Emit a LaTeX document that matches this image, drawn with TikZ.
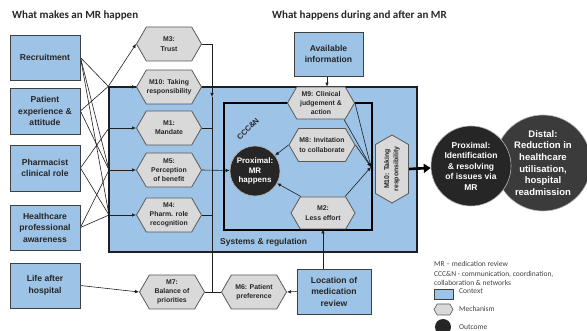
\documentclass[tikz,border=0pt]{standalone}
\usepackage{fontspec}
\setmainfont{Liberation Sans}
\newfontfamily\carl{Carlito}
\usetikzlibrary{shapes.symbols,shapes.geometric,arrows.meta,calc}
\pgfdeclarelayer{back}
\pgfdeclarelayer{mid}
\pgfsetlayers{back,mid,main}
\definecolor{ctx}{HTML}{9DC3E6}
\definecolor{ctxb}{HTML}{404040}
\definecolor{mech}{HTML}{D9D9D9}
\definecolor{mechb}{HTML}{595959}
\definecolor{outc}{HTML}{262626}
\definecolor{distc}{HTML}{3B3B3B}
\definecolor{ln}{HTML}{1F1F1F}
\definecolor{txt}{HTML}{262626}
\begin{document}
\begin{tikzpicture}[x=1pt,y=-1pt,
 ctxbox/.style={draw=ctxb,line width=0.9pt,fill=ctx,align=center,text=txt,
   font=\bfseries\fontsize{8.6}{11.5}\selectfont,inner sep=0pt},
 mechhex/.style={signal,signal to=east and west,signal from=nowhere,
   signal pointer angle=120,draw=mechb,line width=0.8pt,fill=mech,
   minimum width=65pt,minimum height=34pt,inner sep=0pt,align=center,text=txt,
   font=\bfseries\fontsize{6.9}{9.3}\selectfont},
 outcome/.style={circle,draw=gray!60,line width=0.6pt,fill=outc,text=white,
   align=center,inner sep=0pt},
 conn/.style={draw=ln,line width=0.6pt},
 arr/.style={conn,-{Latex[length=4pt,width=3.5pt]}},
 title/.style={font=\carl\bfseries\fontsize{11}{13}\selectfont,text=txt,anchor=west,inner sep=0pt},
 legtxt/.style={font=\carl\fontsize{7.5}{9}\selectfont,text=ctxb,anchor=west,inner sep=0pt},
]
\useasboundingbox (0,0) rectangle (587,331);

% titles
\node[title] (t1) at (12,16) {What makes an MR happen};
\node[title] (t2) at (272,16) {What happens during and after an MR};

% big frames
\begin{pgfonlayer}{back}
\node[draw=ln,line width=1.3pt,fill=ctx,minimum width=308pt,minimum height=165pt,inner sep=0pt] (sys) at (263,169.5) {};
\node[draw=black,line width=1.5pt,minimum width=148pt,minimum height=127pt,inner sep=0pt] (ccc) at (298,166.5) {};
\end{pgfonlayer}
\node[anchor=west,inner sep=0pt,text=txt,font=\bfseries\fontsize{8.5}{10}\selectfont] (syslab) at (220,242) {Systems \& regulation};
\node[rotate=45,inner sep=0pt,text=txt,font=\bfseries\fontsize{7.6}{9}\selectfont] (ccclab) at (248,129) {CCC\&N};

% context boxes
\node[ctxbox,minimum width=70pt,minimum height=45pt] (rec) at (45,57.5) {Recruitment};
\node[ctxbox,minimum width=70pt,minimum height=46pt] (pat) at (45,111) {Patient\\experience \&\\attitude};
\node[ctxbox,minimum width=70pt,minimum height=46pt] (pha) at (45,168) {Pharmacist\\clinical role};
\node[ctxbox,minimum width=70pt,minimum height=45pt] (hca) at (45,227.5) {Healthcare\\professional\\awareness};
\node[ctxbox,minimum width=70pt,minimum height=45pt] (life) at (45,285.5) {Life after\\hospital};
\node[ctxbox,minimum width=74pt,minimum height=45pt] (loc) at (334,291.5) {Location of\\medication\\review};
\node[ctxbox,minimum width=69pt,minimum height=44pt] (avail) at (328.5,54) {Available\\information};

% mechanisms
\node[mechhex] (m3) at (169,44) {M3:\\Trust};
\node[mechhex] (m10) at (169,87) {M10: Taking\\responsibility};
\node[mechhex] (m1) at (169,128) {M1:\\Mandate};
\node[mechhex] (m5) at (169,170) {M5:\\Perception\\of benefit};
\node[mechhex] (m4) at (169,215) {M4:\\Pharm. role\\recognition};
\node[mechhex] (m7) at (172,292) {M7:\\Balance of\\priorities};
\node[mechhex] (m6) at (254,292) {M6: Patient\\preference};
\node[mechhex,minimum width=67pt,minimum height=32pt] (m9) at (321,103) {M9: Clinical\\judgement \&\\action};
\node[mechhex,minimum width=66pt,minimum height=33pt] (m8) at (322,145) {M8: Invitation\\to collaborate};
\node[mechhex,minimum width=64pt,minimum height=32pt] (m2) at (323,213) {M2:\\Less effort};
\node[mechhex,rotate=90,minimum width=68pt,minimum height=33pt] (m10v) at (392,169) {M10: Taking\\responsibility};

% outcomes
\node[outcome,minimum size=50pt,font=\bfseries\fontsize{8}{9.7}\selectfont] (mr) at (255,171) {Proximal:\\MR\\happens};
\node[outcome,fill=distc,minimum size=96pt,font=\bfseries\fontsize{9.5}{11.7}\selectfont] (dist) at (543,163) {Distal:\\Reduction in\\healthcare\\utilisation,\\hospital\\readmission};
\node[outcome,minimum size=80pt,font=\bfseries\fontsize{8.5}{10.5}\selectfont] (prox) at (471,166) {Proximal:\\Identification\\\& resolving\\of issues via\\MR};

% junction points
\coordinate (J1) at (sys.north west);
\coordinate (J2) at (109,128);
\coordinate (J3) at (109,170);
\coordinate (J4) at (109,215);
\coordinate (B1) at (212,97);
\coordinate (C) at (371,167);

\begin{pgfonlayer}{mid}
\draw[conn] (rec.east) -- (J1);
\draw[conn] (rec.east) -- (J3);
\draw[conn] (rec.east) -- (J4);
\draw[conn] (pat.east) -- (J1);
\draw[conn] (pat.east) -- (J3);
\draw[conn] (pha.east) -- (J2);
\draw[conn] (pha.east) -- (J4);
\draw[conn] (hca.east) -- (J3);
\draw[conn] (hca.east) -- (J4);
\draw[arr] (J1) -- (m3.west);
\draw[arr] (J1) -- (m10.west);
\draw[arr] (J2) -- (m1.west);
\draw[arr] (J3) -- (m5.west);
\draw[arr] (J4) -- (m4.west);
\draw[arr] (m3.east) -- (m3.east -| B1) -- (B1);
\draw[conn] (B1) -- (B1 |- m7.east);
\draw[conn] (m1.east) -- (m1.east -| B1);
\draw[conn] (m4.east) -- (m4.east -| B1);
\draw[conn] (m7.east) -- (m6.west);
\draw[arr] (m5.east) -- (mr);
\draw[arr] (m8.west) -- (mr);
\draw[arr] ($(m2.north)+(-22,0)$) -- (mr);
\draw[arr] (life.east) -- (m7.west);
\draw[arr] (loc.west) -- (m6.east);
\draw[arr] (m2.south |- loc.north) -- (m2.south);
\draw[arr] (avail.south -| 327,0) -- (m9.north -| 327,0);
\draw[arr] (m9.east) -- (C);
\draw[arr] ($(m9.south)+(23,0)$) -- (C);
\draw[arr] (m8.east) -- (C);
\draw[arr] ($(m2.north)+(22,0)$) -- (C);
\draw[draw=black,line width=2.6pt,-{Triangle[length=7pt,width=9pt]}] (m10v.south) -- (prox);
\end{pgfonlayer}

% legend
\node[legtxt] (l1) at (434,264) {MR – medication review};
\node[legtxt] (l2) at (434,274) {CCC\&N - communication, coordination,};
\node[legtxt] (l3) at (434,283) {collaboration \& networks};
\node[draw=ctxb,line width=0.7pt,fill=ctx,minimum width=19pt,minimum height=10pt,inner sep=0pt] (lg1) at (443.5,294) {};
\node[legtxt] (l4) at (459,291) {Context};
\node[signal,signal to=east and west,signal from=nowhere,signal pointer angle=120,draw=mechb,line width=0.6pt,fill=mech,minimum width=19pt,minimum height=11pt,inner sep=0pt] (lg2) at (443.5,309.5) {};
\node[legtxt] (l5) at (459,309) {Mechanism};
\node[circle,fill=outc,minimum size=16pt,inner sep=0pt] (lg3) at (443,327) {};
\node[legtxt] (l6) at (459,327) {Outcome};
\end{tikzpicture}
\end{document}
